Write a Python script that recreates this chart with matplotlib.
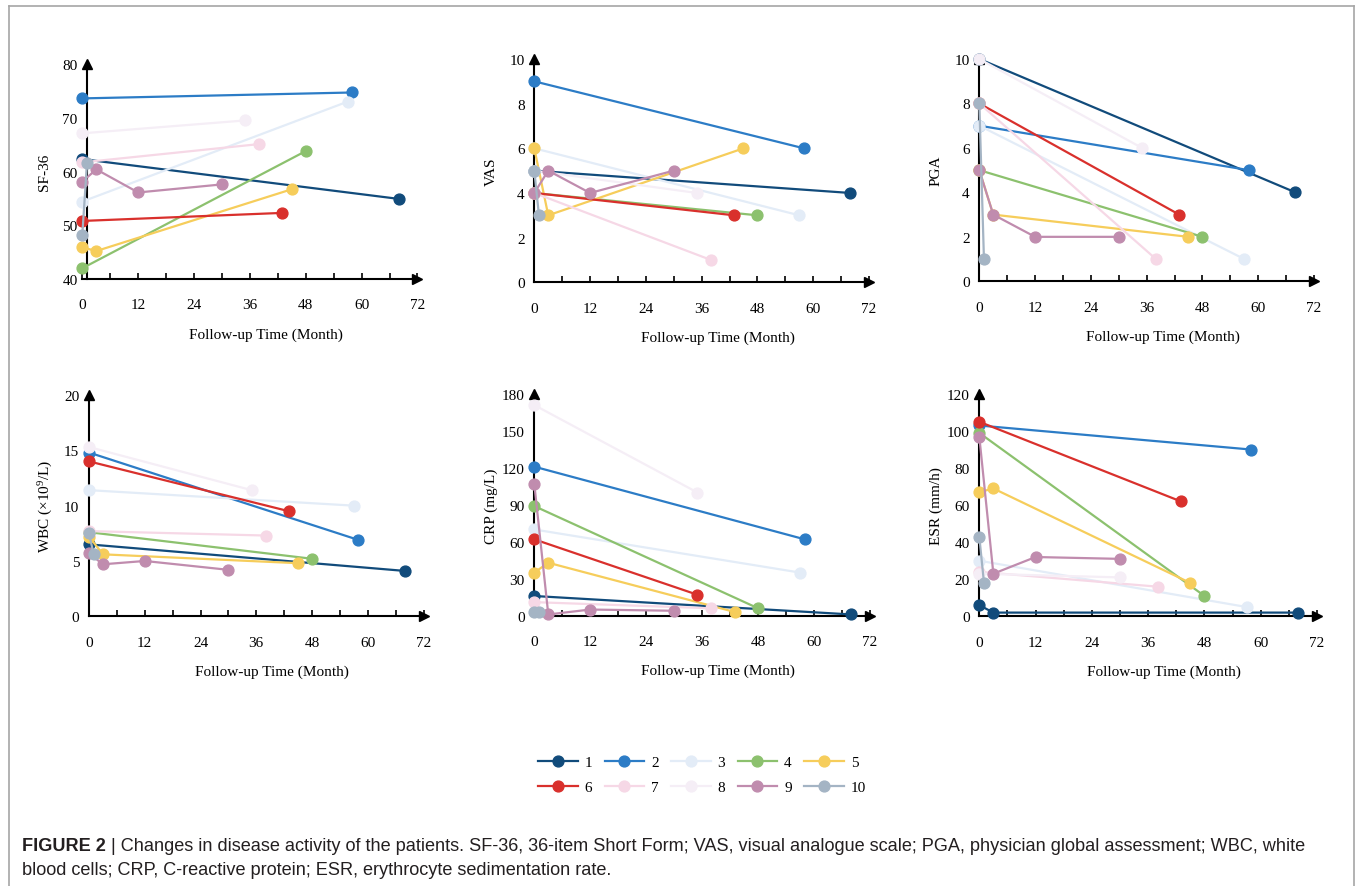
import matplotlib
matplotlib.use("Agg")
import matplotlib.pyplot as plt
from matplotlib.lines import Line2D

W, H = 1357, 887

plt.rcParams['font.family'] = ['Liberation Serif', 'DejaVu Serif']
plt.rcParams['mathtext.fontset'] = 'custom'
plt.rcParams['mathtext.rm'] = 'Liberation Serif'
plt.rcParams['mathtext.it'] = 'Liberation Serif:italic'

patients = ["1", "2", "3", "4", "5", "6", "7", "8", "9", "10"]
colors = ["#114b7b", "#2c7cc6", "#e3ecf7", "#8cc16e", "#f6cd5b",
          "#d9302c", "#f6d8e6", "#f5eef6", "#c08cae", "#a4b4c4"]

# follow-up months and values, one list per patient
sf36_t = [[0, 68], [0, 58], [0, 57], [0, 48], [0, 3, 45],
          [0, 43], [0, 38], [0, 35], [0, 3, 12, 30], [0, 1]]
sf36_v = [[62.3, 54.9], [73.6, 74.7], [54.4, 73.0], [42.0, 63.8], [45.9, 45.2, 56.7],
          [50.8, 52.3], [61.7, 65.1], [67.1, 69.5], [58.1, 60.4, 56.1, 57.6], [48.2, 61.5]]

vas_t = [[0, 68], [0, 58], [0, 57], [0, 48], [0, 3, 45],
         [0, 43], [0, 38], [0, 35], [0, 3, 12, 30], [0, 1]]
vas_v = [[5, 4], [9, 6], [6, 3], [4, 3], [6, 3, 6],
         [4, 3], [4, 1], [5, 4], [4, 5, 4, 5], [5, 3]]

pga_t = [[0, 68], [0, 58], [0, 57], [0, 48], [0, 3, 45],
         [0, 43], [0, 38], [0, 35], [0, 3, 12, 30], [0, 1]]
pga_v = [[10, 4], [7, 5], [7, 1], [5, 2], [5, 3, 2],
         [8, 3], [8, 1], [10, 6], [5, 3, 2, 2], [8, 1]]

wbc_t = [[0, 68], [0, 58], [0, 57], [0, 48], [0, 3, 45],
         [0, 43], [0, 38], [0, 35], [0, 3, 12, 30], [0, 1]]
wbc_v = [[6.5, 4.1], [14.8, 6.9], [11.4, 10.0], [7.6, 5.2], [7.2, 5.6, 4.8],
         [14.0, 9.5], [7.7, 7.3], [15.3, 11.4], [5.7, 4.7, 5.0, 4.2], [7.5, 5.6]]

crp_t = [[0, 68], [0, 58], [0, 57], [0, 48], [0, 3, 43],
         [0, 35], [0, 38], [0, 35], [0, 3, 12, 30], [0, 1]]
crp_v = [[16, 1], [121, 62], [70, 35], [89, 6], [35, 43, 3],
         [62, 17], [11, 6], [171, 100], [107, 1, 5, 4], [3, 3]]

esr_t = [[0, 3, 68], [0, 58], [0, 57], [0, 48], [0, 3, 45],
         [0, 43], [0, 38], [0, 30], [0, 3, 12, 30], [0, 1]]
esr_v = [[6, 2, 2], [103, 90], [30, 5], [99, 11], [67, 69, 18],
         [105, 62], [24, 16], [23, 21], [97, 23, 32, 31], [43, 18]]

ylabels = ["SF-36", "VAS", "PGA", "WBC (×10$^{9}$/L)", "CRP (mg/L)", "ESR (mm/h)"]
yticks = [range(40, 81, 10), range(0, 11, 2), range(0, 11, 2),
          range(0, 21, 5), range(0, 181, 30), range(0, 121, 20)]
xticks = list(range(0, 73, 12))
xlabel = "Follow-up Time (Month)"

times = [sf36_t, vas_t, pga_t, wbc_t, crp_t, esr_t]
values = [sf36_v, vas_v, pga_v, wbc_v, crp_v, esr_v]

# pixel boxes: x of month 0, x of month 72, y of top tick, y of bottom tick
boxes = [(82.3, 417.5, 65, 280), (534.3, 869, 60, 283.3), (979.3, 1314, 60, 282.3),
         (89, 423.5, 396, 617.3), (534.3, 870, 395, 616.7), (979.3, 1317, 395, 617.3)]
spine_x = [1.1, 0, 0, 0, 0, 0]

fig = plt.figure(figsize=(W / 100, H / 100), dpi=100)

handles = []
for k in range(6):
    x0, x1, yt, yb = boxes[k]
    ax = fig.add_axes([x0 / W, 1 - yb / H, (x1 - x0) / W, (yb - yt) / H])
    ax.patch.set_alpha(0)
    lo, hi = yticks[k][0], yticks[k][-1]
    ax.set_xlim(0, 72)
    ax.set_ylim(lo, hi)
    for i in range(10):
        ln, = ax.plot(times[k][i], values[k][i], color=colors[i], lw=1.6,
                      marker='o', ms=7.8, clip_on=False, zorder=3 + i)
        if k == 0:
            handles.append(ln)
    for s in ['top', 'right']:
        ax.spines[s].set_visible(False)
    ax.spines['left'].set_position(('data', spine_x[k]))
    for s in ['left', 'bottom']:
        ax.spines[s].set_linewidth(1.5)
        ax.spines[s].set_zorder(2)
    ax.plot([spine_x[k]], [hi], marker='^', ms=7, color='k', clip_on=False, zorder=2)
    ax.plot([72], [lo], marker='>', ms=7, color='k', clip_on=False, zorder=2)

    ax.set_xticks(xticks)
    ax.set_xticks(range(6, 73, 12), minor=True)
    ax.set_yticks(list(yticks[k]))
    ax.tick_params(axis='x', which='both', direction='in', length=4, width=1.2,
                   pad=14, labelsize=11)
    ax.tick_params(axis='y', length=0, pad=7, labelsize=11)

    ax.text(0.548, -55 / (yb - yt), xlabel, transform=ax.transAxes,
            ha='center', va='center', fontsize=11)
    sx = x0 + spine_x[k] * (x1 - x0) / 72
    fig.text((sx - 43) / W, 1 - (yt + yb) / 2 / H, ylabels[k], rotation=90,
             ha='center', va='center', fontsize=11)

# legend fills column by column, so interleave to get 1-5 on top, 6-10 below
order = [0, 5, 1, 6, 2, 7, 3, 8, 4, 9]
fig.legend([handles[i] for i in order], [patients[i] for i in order], ncol=5,
           loc='center', bbox_to_anchor=(702 / W, 1 - 776 / H),
           frameon=False, fontsize=11, handlelength=2.6, handletextpad=0.45,
           columnspacing=0.8, labelspacing=0.75)

# caption
cap_bold = "FIGURE 2"
cap_l1 = " | Changes in disease activity of the patients. SF-36, 36-item Short Form; VAS, visual analogue scale; PGA, physician global assessment; WBC, white"
cap_l2 = "blood cells; CRP, C-reactive protein; ESR, erythrocyte sedimentation rate."
cfs = 13.05
r = fig.canvas.get_renderer()
tb = fig.text(22 / W, 1 - 847 / H, cap_bold, fontfamily='Liberation Sans', fontweight='bold',
              fontsize=cfs, color='#231f20', va='center')
bx = tb.get_window_extent(r).x1
fig.text(bx / W, 1 - 847 / H, cap_l1, fontfamily='Liberation Sans', fontsize=cfs,
         color='#231f20', va='center')
fig.text(22 / W, 1 - 871 / H, cap_l2, fontfamily='Liberation Sans', fontsize=cfs,
         color='#231f20', va='center')

# frame
gray = '#a6a6a6'
fig.add_artist(Line2D([9 / W, 1354 / W], [1 - 7 / H, 1 - 7 / H], color=gray, lw=1.2))
fig.add_artist(Line2D([9 / W, 9 / W], [0, 1 - 7 / H], color=gray, lw=1.2))
fig.add_artist(Line2D([1354 / W, 1354 / W], [0, 1 - 7 / H], color=gray, lw=1.2))

fig.savefig("out.png", dpi=100)
